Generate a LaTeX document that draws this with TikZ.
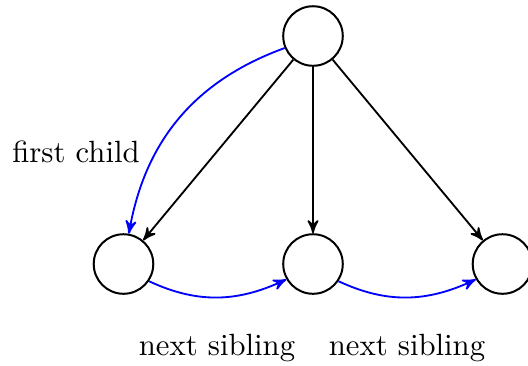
\documentclass[tikz,border=0pt]{standalone}
\usetikzlibrary{arrows}
\begin{document}
\begin{tikzpicture}[x=0.3257pt,y=-0.3257pt,
  vert/.style={circle,draw,line width=0.65pt,minimum size=19.4pt,inner sep=0pt},
  edge/.style={->,>=stealth',line width=0.6pt},
  link/.style={->,>=stealth',line width=0.6pt,blue},
  lbl/.style={inner sep=0pt,font=\normalsize}]
\useasboundingbox (0,0) rectangle (528,365);
\node[vert] (root) at (313,36) {};
\node[vert] (c1) at (123.5,264) {};
\node[vert] (c2) at (313,264) {};
\node[vert] (c3) at (502.5,264) {};
\draw[edge] (root) -- (c1);
\draw[edge] (root) -- (c2);
\draw[edge] (root) -- (c3);
\draw[link] (root.203) to[out=200,in=80] (c1.80);
\draw[link] (c1.-34) to[out=-25,in=205] (c2.210);
\draw[link] (c2.-34) to[out=-25,in=205] (c3.210);
\node[lbl] (fc) at (76,152) {first child};
\node[lbl] (ns1) at (217,348) {next sibling};
\node[lbl] (ns2) at (407,348) {next sibling};
\end{tikzpicture}
\end{document}
